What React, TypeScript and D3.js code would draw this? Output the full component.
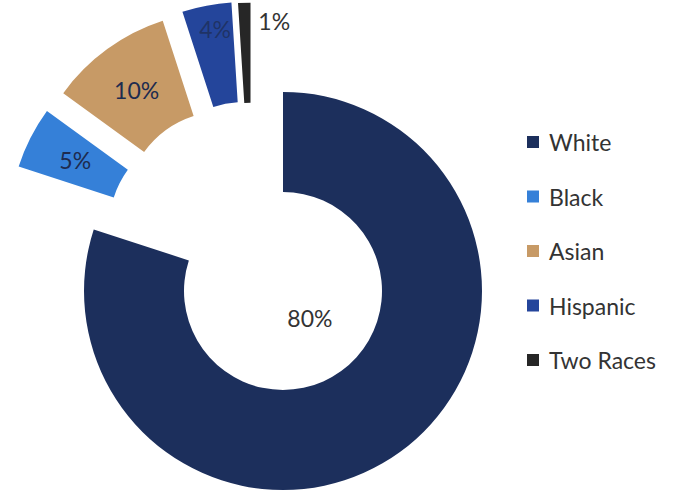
import React, { useMemo } from "react";
import * as d3 from "d3";

const categories = ["White", "Black", "Asian", "Hispanic", "Two Races"];
const values = [80, 5, 10, 4, 1];
const labels = ["80%", "5%", "10%", "4%", "1%"];

const COLORS = ["#1c2f5c", "#3580d8", "#c79a66", "#24459b", "#262626"];
// explosion per slice: distance (px) and direction (deg clockwise from top)
const EXPLODE = [
  { d: 0, a: 0 },
  { d: 98, a: 310 },
  { d: 100, a: 324 },
  { d: 98, a: 336.5 },
  { d: 95, a: 340 },
];
// label placement relative to slice center: radius and angle (deg)
const LABEL_POS = [
  { r: 38, a: 135 },
  { r: 149, a: -1 },
  { r: 149, a: -1 },
  { r: 175, a: 350.5 },
  { r: 182, a: 7.5 },
];

const W = 682;
const H = 493;
const CX = 283;
const CY = 291;
const R_OUT = 199;
const R_IN = 99;

const rad = (deg: number) => (deg * Math.PI) / 180;
const polar = (r: number, deg: number): [number, number] => [
  r * Math.sin(rad(deg)),
  -r * Math.cos(rad(deg)),
];

export default function App() {
  const arcs = useMemo(
    () =>
      d3
        .pie<number>()
        .sort(null)
        .startAngle(0)
        .endAngle(2 * Math.PI)(values),
    []
  );
  const arcGen = d3.arc<d3.PieArcDatum<number>>().innerRadius(R_IN).outerRadius(R_OUT);

  return (
    <svg
      width={W}
      height={H}
      style={{ position: "absolute", left: 0, top: 0, background: "#fff" }}
      fontFamily="Lato, 'Open Sans', sans-serif"
    >
      <rect width={W} height={H} fill="#ffffff" />
      <g transform={`translate(${CX},${CY})`}>
        {arcs.map((a, i) => {
          const [ox, oy] = polar(EXPLODE[i].d, EXPLODE[i].a);
          const mid = (((a.startAngle + a.endAngle) / 2) * 180) / Math.PI;
          const lp = LABEL_POS[i];
          const [lx, ly] = polar(lp.r, lp.a < 0 ? mid : lp.a);
          const isOutside = i === 4;
          return (
            <g key={categories[i]} transform={`translate(${ox},${oy})`}>
              <path d={arcGen(a) || ""} fill={COLORS[i]} />
              <text
                x={lx}
                y={ly}
                textAnchor="middle"
                dominantBaseline="central"
                fontSize={23}
                fill={i === 0 || isOutside ? "#333333" : "#1d2b4f"}
                fillOpacity={i === 3 ? 0.7 : 1}
              >
                {labels[i]}
              </text>
            </g>
          );
        })}
      </g>
      <g transform="translate(527,142)">
        {categories.map((c, i) => (
          <g key={c} transform={`translate(0,${i * 54.5})`}>
            <rect x={0} y={-6} width={12} height={12} fill={COLORS[i]} />
            <text
              x={22}
              y={0}
              dominantBaseline="central"
              fontSize={23}
              fill="#333333"
            >
              {c}
            </text>
          </g>
        ))}
      </g>
    </svg>
  );
}
